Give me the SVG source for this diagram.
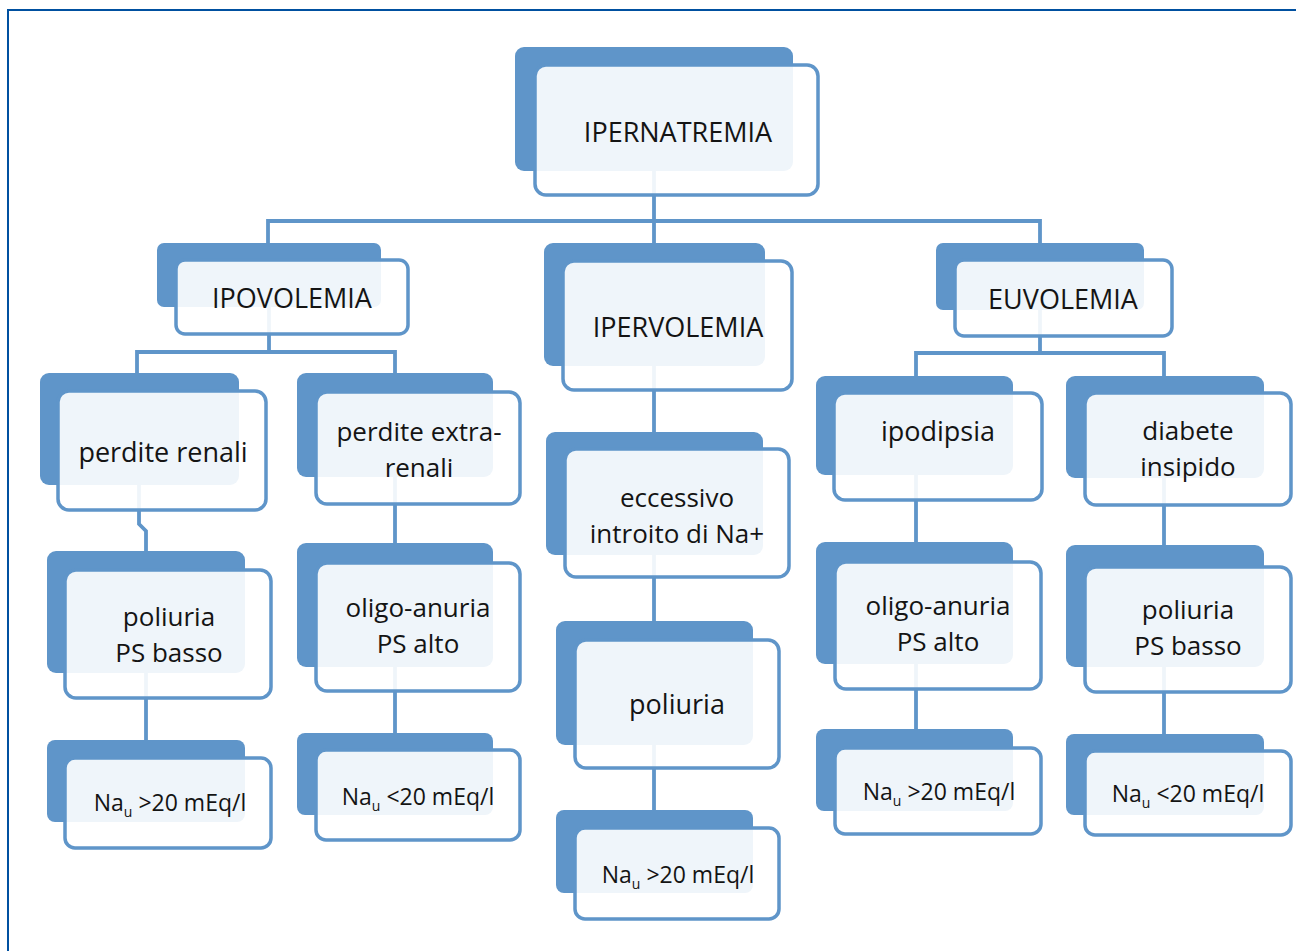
<svg xmlns="http://www.w3.org/2000/svg" width="1296" height="951" viewBox="0 0 1296 951">
<style>
.bk{fill:#5f95c9;}
.fr{fill:#ffffff;fill-opacity:0.9;stroke:#5f95c9;stroke-width:3.5;}
.t{font-family:"Open Sans","Liberation Sans",sans-serif;font-size:27px;fill:#141414;text-anchor:middle;}
.m{font-size:26px;}
.s{font-size:23px;}
.sub{font-size:14px;}
.cn{fill:none;stroke:#5f95c9;stroke-width:3.8;}
</style>
<rect x="0" y="0" width="1296" height="951" fill="#ffffff"/>
<path d="M8,951 V10 H1296" fill="none" stroke="#0050a0" stroke-width="2"/>
<g id="connectors" class="cn">
<path d="M654,171 V243 M268,243 V221 H1040 V243"/>
<path d="M269,307 V352 M137,373 V352 H395 V373"/>
<path d="M1040,310 V353 M916,376 V353 H1164 V376"/>
<path d="M654,366 V432"/>
<path d="M139,485 V524 L146,531 V551"/>
<path d="M395,477 V543 M395,667 V733"/>
<path d="M654,555 V621 M654,745 V810"/>
<path d="M916,475 V542 M916,664 V729"/>
<path d="M1164,478 V545 M1164,667 V734"/>
<path d="M146,673 V740"/>
</g>
<g id="n-ipernatremia"><rect class="bk" x="515" y="47" width="278" height="124" rx="9"/><rect class="fr" x="535" y="65" width="283" height="130" rx="11"/><text class="t" x="678" y="142">IPERNATREMIA</text></g>
<g id="n-ipovolemia"><rect class="bk" x="157" y="243" width="224" height="64" rx="7"/><rect class="fr" x="176" y="260" width="232" height="74" rx="9"/><text class="t" x="292" y="308">IPOVOLEMIA</text></g>
<g id="n-ipervolemia"><rect class="bk" x="544" y="243" width="221" height="123" rx="9"/><rect class="fr" x="563" y="261" width="229" height="129" rx="11"/><text class="t" x="678" y="337">IPERVOLEMIA</text></g>
<g id="n-euvolemia"><rect class="bk" x="936" y="243" width="208" height="67" rx="7"/><rect class="fr" x="955" y="260" width="217" height="76" rx="9"/><text class="t" x="1063" y="309">EUVOLEMIA</text></g>
<g id="n-perdite-renali"><rect class="bk" x="40" y="373" width="199" height="112" rx="9"/><rect class="fr" x="58" y="391" width="208" height="119" rx="11"/><text class="t" x="163" y="462">perdite renali</text></g>
<g id="n-perdite-extrarenali"><rect class="bk" x="297" y="373" width="196" height="104" rx="9"/><rect class="fr" x="316" y="392" width="204" height="112" rx="11"/><text class="t m" x="419" y="441">perdite extra-<tspan x="419" dy="36">renali</tspan></text></g>
<g id="n-eccessivo"><rect class="bk" x="546" y="432" width="217" height="123" rx="9"/><rect class="fr" x="565" y="449" width="224" height="128" rx="11"/><text class="t m" x="677" y="507">eccessivo<tspan x="677" dy="36">introito di Na+</tspan></text></g>
<g id="n-ipodipsia"><rect class="bk" x="816" y="376" width="197" height="99" rx="9"/><rect class="fr" x="834" y="393" width="208" height="107" rx="11"/><text class="t" x="938" y="441">ipodipsia</text></g>
<g id="n-diabete"><rect class="bk" x="1066" y="376" width="198" height="102" rx="9"/><rect class="fr" x="1085" y="393" width="206" height="112" rx="11"/><text class="t m" x="1188" y="440">diabete<tspan x="1188" dy="36">insipido</tspan></text></g>
<g id="n-poliuria-ps-basso-1"><rect class="bk" x="47" y="551" width="198" height="122" rx="9"/><rect class="fr" x="65" y="570" width="206" height="128" rx="11"/><text class="t m" x="169" y="626">poliuria<tspan x="169" dy="36">PS basso</tspan></text></g>
<g id="n-oligo-anuria-1"><rect class="bk" x="297" y="543" width="196" height="124" rx="9"/><rect class="fr" x="316" y="563" width="204" height="128" rx="11"/><text class="t m" x="418" y="617">oligo-anuria<tspan x="418" dy="36">PS alto</tspan></text></g>
<g id="n-poliuria-mid"><rect class="bk" x="556" y="621" width="197" height="124" rx="9"/><rect class="fr" x="575" y="640" width="204" height="128" rx="11"/><text class="t" x="677" y="714">poliuria</text></g>
<g id="n-oligo-anuria-2"><rect class="bk" x="816" y="542" width="197" height="122" rx="9"/><rect class="fr" x="835" y="562" width="206" height="127" rx="11"/><text class="t m" x="938" y="615">oligo-anuria<tspan x="938" dy="36">PS alto</tspan></text></g>
<g id="n-poliuria-ps-basso-2"><rect class="bk" x="1066" y="545" width="198" height="122" rx="9"/><rect class="fr" x="1085" y="567" width="206" height="125" rx="11"/><text class="t m" x="1188" y="619">poliuria<tspan x="1188" dy="36">PS basso</tspan></text></g>
<g id="n-na-1"><rect class="bk" x="47" y="740" width="198" height="82" rx="8"/><rect class="fr" x="65" y="758" width="206" height="90" rx="10"/><text class="t s" x="170" y="811">Na<tspan class="sub" dy="6">u</tspan><tspan dy="-6"> &gt;20 mEq/l</tspan></text></g>
<g id="n-na-2"><rect class="bk" x="297" y="733" width="196" height="82" rx="8"/><rect class="fr" x="316" y="750" width="204" height="90" rx="10"/><text class="t s" x="418" y="805">Na<tspan class="sub" dy="6">u</tspan><tspan dy="-6"> &lt;20 mEq/l</tspan></text></g>
<g id="n-na-3"><rect class="bk" x="556" y="810" width="197" height="83" rx="8"/><rect class="fr" x="575" y="828" width="204" height="91" rx="10"/><text class="t s" x="678" y="883">Na<tspan class="sub" dy="6">u</tspan><tspan dy="-6"> &gt;20 mEq/l</tspan></text></g>
<g id="n-na-4"><rect class="bk" x="816" y="729" width="197" height="82" rx="8"/><rect class="fr" x="835" y="748" width="206" height="86" rx="10"/><text class="t s" x="939" y="800">Na<tspan class="sub" dy="6">u</tspan><tspan dy="-6"> &gt;20 mEq/l</tspan></text></g>
<g id="n-na-5"><rect class="bk" x="1066" y="734" width="198" height="81" rx="8"/><rect class="fr" x="1085" y="751" width="206" height="84" rx="10"/><text class="t s" x="1188" y="802">Na<tspan class="sub" dy="6">u</tspan><tspan dy="-6"> &lt;20 mEq/l</tspan></text></g>
</svg>
